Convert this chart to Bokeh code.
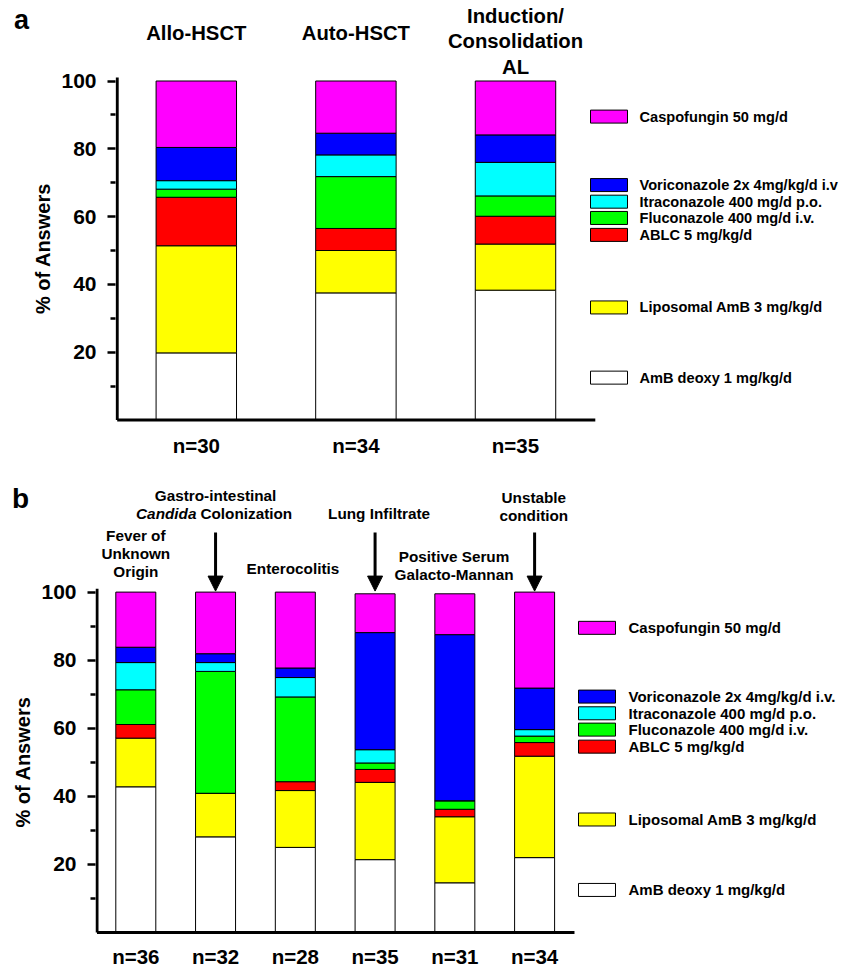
import math
from bokeh.plotting import figure
from bokeh.models import ColumnDataSource, FixedTicker, Arrow, NormalHead, Range1d
from bokeh.layouts import column, row
from bokeh.core.properties import value
from bokeh.embed import file_html
from bokeh.resources import INLINE

FONT = "Liberation Sans"

# ---------------- data ----------------
keys = ["amb", "lamb", "ablc", "flu", "itra", "vori", "caspo"]
colors = ["#FFFFFF", "#FFFF00", "#FF0000", "#00FF00", "#00FFFF", "#0000FF", "#FF00FF"]
legend_a = ["AmB deoxy 1 mg/kg/d", "Liposomal AmB 3 mg/kg/d", "ABLC 5 mg/kg/d",
            "Fluconazole 400 mg/d i.v.", "Itraconazole 400 mg/d p.o.",
            "Voriconazole 2x 4mg/kg/d i.v", "Caspofungin 50 mg/d"]
legend_b = ["AmB deoxy 1 mg/kg/d", "Liposomal AmB 3 mg/kg/d", "ABLC 5 mg/kg/d",
            "Fluconazole 400 mg/d i.v.", "Itraconazole 400 mg/d p.o.",
            "Voriconazole 2x 4mg/kg/d i.v.", "Caspofungin 50 mg/d"]

# Panel a: patient groups
a_titles = [["Allo-HSCT"], ["Auto-HSCT"], ["Induction/", "Consolidation", "AL"]]
a_n = ["n=30", "n=34", "n=35"]
a_amb = [19.8, 37.5, 38.3]
a_lamb = [31.6, 12.5, 13.6]
a_ablc = [14.3, 6.5, 8.2]
a_flu = [2.4, 15.3, 6.0]
a_itra = [2.5, 6.4, 9.9]
a_vori = [9.8, 6.4, 8.1]
a_caspo = [19.6, 15.4, 15.9]

# Panel b: clinical situations
b_titles = [["Fever of", "Unknown", "Origin"],
            ["Gastro-intestinal", "Candida|Colonization"],
            ["Enterocolitis"],
            ["Lung Infiltrate"],
            ["Positive Serum", "Galacto-Mannan"],
            ["Unstable", "condition"]]
b_arrow = [False, True, False, True, False, True]
b_n = ["n=36", "n=32", "n=28", "n=35", "n=31", "n=34"]
b_amb = [42.8, 28.1, 25.0, 21.4, 14.6, 22.0]
b_lamb = [14.3, 12.8, 16.7, 22.7, 19.4, 29.8]
b_ablc = [4.0, 0.0, 2.6, 3.8, 2.2, 4.0]
b_flu = [10.2, 35.8, 24.9, 1.9, 2.5, 1.9]
b_itra = [8.0, 2.6, 5.7, 3.9, 0.0, 1.9]
b_vori = [4.5, 2.6, 2.8, 34.4, 48.8, 12.2]
b_caspo = [16.2, 18.1, 22.3, 11.4, 12.0, 28.2]

# legend rows (in % axis units)
leg_y = [12.5, 33.2, 54.6, 59.6, 64.4, 69.3, 89.5]


# ---------------- helpers ----------------
def base_fig(width, height, xr, yr, left):
    p = figure(width=width, height=height, x_range=xr, y_range=yr, output_backend="svg",
               toolbar_location=None, x_axis_location=None,
               y_axis_location=("left" if left else None),
               min_border_left=left, min_border_right=0, min_border_top=0, min_border_bottom=0)
    p.grid.visible = False
    p.outline_line_color = None
    return p


def style_axis(p):
    ax = p.yaxis[0]
    ax.ticker = FixedTicker(ticks=[20, 40, 60, 80, 100], minor_ticks=[10, 30, 50, 70, 90])
    ax.axis_line_color = None
    ax.major_tick_line_width = 2.5
    ax.minor_tick_line_width = 2.5
    ax.major_tick_out = 8
    ax.minor_tick_out = 5
    ax.major_tick_in = 0
    ax.minor_tick_in = 0
    ax.major_label_standoff = 11
    ax.major_label_text_font = FONT
    ax.major_label_text_font_style = "bold"
    ax.major_label_text_font_size = "21px"
    ax.major_label_text_color = "black"


def txt(p, x, y, t, size, align="center", style="bold", angle=0.0):
    p.text(x=[x], y=[y], text=[t], text_font=value(FONT), text_font_style=style,
           text_font_size=size, text_align=align, text_baseline="middle",
           text_color="black", angle=angle)


def draw_panel(p, xs, series, width, n_labels, n_y, axis_x, legend_labels, box_x, text_x, leg_size):
    data = dict(x=xs)
    for k, s in zip(keys, series):
        data[k] = s
    src = ColumnDataSource(data)
    p.vbar_stack(keys, x="x", width=width, fill_color=colors, line_color="black",
                 line_width=1, source=src)
    # axis lines
    p.segment(x0=[axis_x], y0=[0], x1=[axis_x], y1=[101], line_color="black", line_width=3)
    p.segment(x0=[axis_x], y0=[0], x1=[len(xs) - 0.5], y1=[0], line_color="black", line_width=3)
    # n labels
    p.text(x=xs, y=[n_y] * len(xs), text=n_labels, text_font=value(FONT),
           text_font_style="bold", text_font_size="20.5px", text_align="center",
           text_baseline="middle", text_color="black")
    # legend
    p.rect(x=[box_x] * len(keys), y=leg_y, width=37, height=13, width_units="screen",
           height_units="screen", fill_color=colors, line_color="black", line_width=1)
    p.text(x=[text_x] * len(keys), y=leg_y, text=legend_labels, text_font=value(FONT),
           text_font_style="bold", text_font_size=leg_size, text_align="left",
           text_baseline="middle", text_color="black")


# ---------------- panel a ----------------
def ax_(px):
    return (px - 195.8) / 159.6


def ay_(py):
    return (419.5 - py) / 3.39


HA = 470
LA = 55  # width of side strip with panel letter + axis title
ya = Range1d(ay_(HA), ay_(0))
sa = base_fig(LA, HA, Range1d(0, LA), ya, 0)
txt(sa, 21, ay_(19), "a", "27px")
txt(sa, 42.6, ay_(248), "% of Answers", "20px", angle=math.pi / 2)

pa = base_fig(845 - LA, HA, Range1d(ax_(115), ax_(845)), ya, 115 - LA)
style_axis(pa)
xa = list(range(len(a_n)))
draw_panel(pa, xa, [a_amb, a_lamb, a_ablc, a_flu, a_itra, a_vori, a_caspo], 0.504,
           a_n, ay_(445), ax_(116.7), legend_a, ax_(608.5), ax_(639), "14.6px")
a_first = [32, 32, 15]
for i, lines in enumerate(a_titles):
    for j, line in enumerate(lines):
        txt(pa, xa[i], ay_(a_first[i] + 25.5 * j), line, "20.3px")


# ---------------- panel b ----------------
def bx_(px):
    return (px - 135.3) / 79.76


def by_(py):
    return (932 - py) / 3.404


TOPB = 470
HB = 967 - TOPB
LB = 36
yb = Range1d(by_(967), by_(TOPB))
sb = base_fig(LB, HB, Range1d(0, LB), yb, 0)
txt(sb, 20, by_(498), "b", "28px")
txt(sb, 22, by_(761.5), "% of Answers", "20px", angle=math.pi / 2)

pb = base_fig(845 - LB, HB, Range1d(bx_(95), bx_(845)), yb, 95 - LB)
style_axis(pb)
xb = list(range(len(b_n)))
draw_panel(pb, xb, [b_amb, b_lamb, b_ablc, b_flu, b_itra, b_vori, b_caspo], 0.5015,
           b_n, by_(956), bx_(96.5), legend_b, bx_(596.5), bx_(628), "15px")
b_first = [535, 495, 568, 513, 556, 497]
b_dx = [0.0, 0.0, -0.03, 0.05, -0.01, -0.01]
for i, lines in enumerate(b_titles):
    for j, line in enumerate(lines):
        yy = by_(b_first[i] + 17.8 * j)
        if "|" in line:
            it, rest = line.split("|")
            txt(pb, xb[i] - 0.24, yy, it, "15.3px", align="right", style="bold italic")
            txt(pb, xb[i] - 0.19, yy, rest, "15.3px", align="left")
        else:
            txt(pb, xb[i] + b_dx[i], yy, line, "15.3px")
    if b_arrow[i]:
        pb.add_layout(Arrow(end=NormalHead(size=15, fill_color="black", line_color="black"),
                            x_start=xb[i], y_start=by_(532), x_end=xb[i], y_end=100.3,
                            line_width=3, line_color="black"))

layout = column(row(sa, pa, spacing=0), row(sb, pb, spacing=0), spacing=0)
open("out.html", "w").write(file_html(layout, INLINE))
